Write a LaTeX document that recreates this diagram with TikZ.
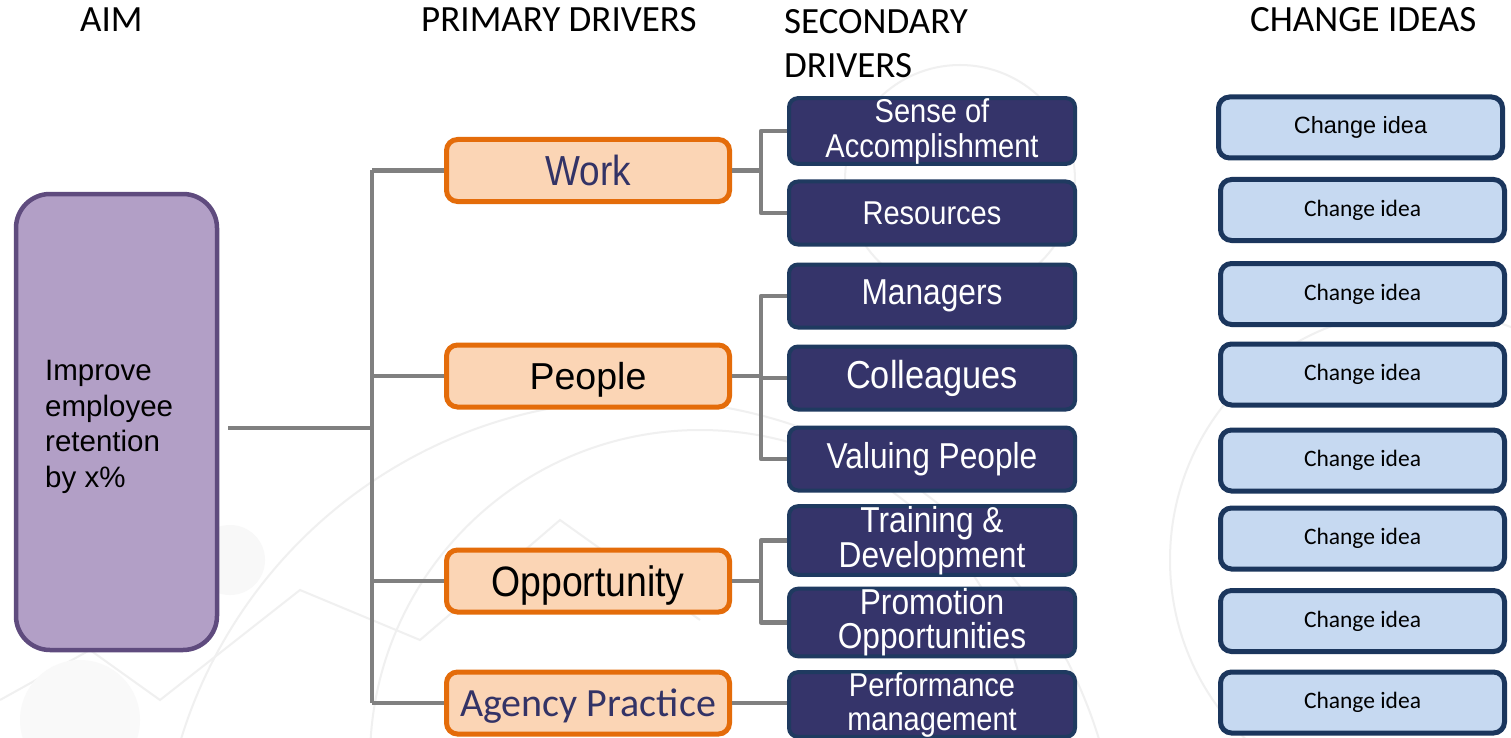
\documentclass[tikz,border=0pt]{standalone}
\usepackage{fontspec}
\setmainfont{Liberation Sans}
\newfontfamily\calibrifont{Carlito}
\newfontfamily\narrowfont[FakeStretch=0.88]{Liberation Sans}
\usetikzlibrary{calc}

\definecolor{aimfill}{HTML}{B29FC6}
\definecolor{aimline}{HTML}{5F4B7E}
\definecolor{peach}{HTML}{FBD5B5}
\definecolor{pline}{HTML}{E46C0A}
\definecolor{navyfill}{HTML}{35346A}
\definecolor{navyline}{HTML}{1F3A60}
\definecolor{ideafill}{HTML}{C6D9F1}
\definecolor{idealine}{HTML}{1B365D}
\definecolor{linkgray}{HTML}{808080}
\definecolor{navytext}{HTML}{333366}
\definecolor{bgline}{HTML}{F0F0F0}

\tikzset{
  header/.style={anchor=base west, inner sep=0pt, font=\calibrifont\fontsize{37}{44}\selectfont},
  aimbox/.style={draw=aimline, fill=aimfill, line width=4.5pt, rounded corners=34pt,
    minimum width=201pt, minimum height=456pt, inner sep=0pt},
  primbox/.style={draw=pline, fill=peach, line width=5pt, rounded corners=11pt,
    minimum width=283pt, minimum height=62pt, inner sep=0pt, text depth=0pt},
  secbox/.style={draw=navyline, fill=navyfill, line width=4pt, rounded corners=9pt,
    minimum width=286pt, minimum height=63pt, inner sep=0pt, text=white, align=center},
  ideabox/.style={draw=idealine, fill=ideafill, line width=5pt, rounded corners=11pt,
    minimum width=284pt, minimum height=61pt, inner sep=0pt,
    font=\calibrifont\fontsize{23.5}{28}\selectfont},
  link/.style={draw=linkgray, line width=4.5pt, line join=round},
  bgdeco/.style={draw=bgline, line width=2pt},
}

\begin{document}
\begin{tikzpicture}[x=1pt, y=-1pt]
  \useasboundingbox (0,0) rectangle (1511,738);
  \fill[white] (0,0) rectangle (1511,738);

  % faint decorative background
  \begin{scope}
    \clip (0,0) rectangle (1511,738);
    \draw[bgdeco] (700,760) circle[radius=330];
    \draw[bgdeco] (960,180) circle[radius=115];
    \draw[bgdeco] (640,880) circle[radius=480];
    \draw[bgdeco] (1420,560) circle[radius=250];
    \draw[bgdeco] (0,700) -- (90,650) -- (160,700) -- (300,590) -- (420,640) -- (560,520) -- (700,620);
    \fill[bgline!50] (230,560) circle[radius=35];
    \fill[bgline!40] (80,720) circle[radius=60];
  \end{scope}

  % column headings
  \node[header] (hAim) at (80,32) {AIM};
  \node[header] (hPrim) at (421,32) {PRIMARY DRIVERS};
  \node[header, align=left, anchor=north west] (hSec) at (784,9) {SECONDARY\\DRIVERS};
  \node[header] (hIdea) at (1250,32) {CHANGE IDEAS};

  % aim
  \node[aimbox] (aim) at (116.5,422) {};
  \node[anchor=west, align=left, inner sep=0pt,
        font=\fontsize{29.5}{35.5}\selectfont] (aimtext) at (45,427)
        {Improve\\employee\\retention\\by x\%};

  % primary drivers
  \node[primbox, text=navytext, font=\narrowfont\fontsize{42}{44}\selectfont] (work) at (588,170.5) {Work};
  \node[primbox, font=\fontsize{37.5}{40}\selectfont] (people) at (588,376) {People};
  \node[primbox, font=\narrowfont\fontsize{42.5}{44}\selectfont] (opp) at (588,581) {Opportunity};
  \node[primbox, text=navytext, font=\calibrifont\fontsize{40}{44}\selectfont] (agency) at (588,703) {Agency Practice};

  % secondary drivers
  \node[secbox, font=\narrowfont\fontsize{33}{35}\selectfont] (sense) at (932,131) {Sense of\\Accomplishment};
  \node[secbox, font=\narrowfont\fontsize{33}{35}\selectfont] (res) at (932,213) {Resources};
  \node[secbox, font=\narrowfont\fontsize{36}{35}\selectfont] (man) at (932,296) {Managers};
  \node[secbox, font=\narrowfont\fontsize{39}{35}\selectfont] (coll) at (932,378) {Colleagues};
  \node[secbox, font=\narrowfont\fontsize{36}{35}\selectfont] (val) at (932,459) {Valuing People};
  \node[secbox, font=\narrowfont\fontsize{36}{35}\selectfont] (train) at (932,540.5) {Training \&\\Development};
  \node[secbox, font=\narrowfont\fontsize{36}{34}\selectfont] (promo) at (932,622.5) {Promotion\\Opportunities};
  \node[secbox, font=\narrowfont\fontsize{33}{34}\selectfont] (perf) at (932,704.5) {Performance\\management};

  % change ideas
  \node[ideabox, font=\fontsize{23.5}{28}\selectfont] (c1) at (1360.5,127.5) {Change idea};
  \node[ideabox] (c2) at (1362.5,210) {Change idea};
  \node[ideabox] (c3) at (1362.5,294) {Change idea};
  \node[ideabox] (c4) at (1362.5,374.5) {Change idea};
  \node[ideabox] (c5) at (1362.5,460.5) {Change idea};
  \node[ideabox] (c6) at (1362.5,538.5) {Change idea};
  \node[ideabox] (c7) at (1362.5,621) {Change idea};
  \node[ideabox] (c8) at (1362.5,702.5) {Change idea};

  % aim to primary drivers
  \coordinate (hub) at (372,428);
  \draw[link] ([xshift=9pt, yshift=-6pt]aim.east) -- (hub);
  \draw[link] (hub |- work.west) -- (hub |- agency.west);
  \draw[link] (hub |- work.west) -- (work.west);
  \draw[link] (hub |- people.west) -- (people.west);
  \draw[link] (hub |- opp.west) -- (opp.west);
  \draw[link] (hub |- agency.west) -- (agency.west);

  % primary to secondary drivers
  \coordinate (spine) at (761,0);
  \draw[link] (work.east) -- (work.east -| spine);
  \draw[link] (sense.west) -- (sense.west -| spine) -- (res.west -| spine) -- (res.west);
  \draw[link] (people.east) -- (people.east -| spine);
  \draw[link] (man.west) -- (man.west -| spine) -- (val.west -| spine) -- (val.west);
  \draw[link] (coll.west -| spine) -- (coll.west);
  \draw[link] (opp.east) -- (opp.east -| spine);
  \draw[link] (train.west) -- (train.west -| spine) -- (promo.west -| spine) -- (promo.west);
  \draw[link] (agency.east) -- (agency.east -| perf.west);
\end{tikzpicture}
\end{document}
